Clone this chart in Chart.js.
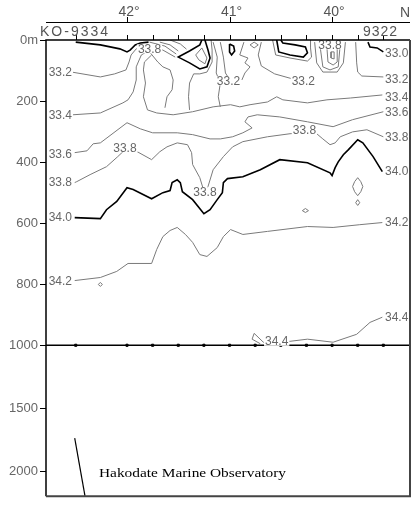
<!DOCTYPE html>
<html>
<head>
  <title>KO-9334 - 9322 salinity section</title>
  <script src="https://cdn.jsdelivr.net/npm/chart.js"></script>
  <style>
    body { margin: 0; background: #fff; }
    #wrap { width: 418px; height: 506px; }
  </style>
</head>
<body>
  <div id="wrap"><canvas id="section"></canvas></div>

  <script>
    // axis values
    const yTicks = [0, 200, 400, 600, 800, 1000, 1500, 2000];
    const yTickLabels = ['0m', '200', '400', '600', '800', '1000', '1500', '2000'];
    const latTicks = [42, 41, 40];
    const stations = [42.5, 42.0, 41.75, 41.5, 41.25, 41.0, 40.75, 40.5, 40.25, 40.0, 39.75, 39.5];

    // contours: [latitude, depth m]
    const s330a = [[42.50,7],[42.26,16],[42.07,29],[42.00,39],[41.97,33],[41.92,16],[41.87,10],[41.79,7]];
    const s330b = [[39.65,7],[39.63,23],[39.56,26],[39.50,39]];
    const s330v = [[41.27,0],[41.29,16],[41.39,36],[41.50,56],[41.39,75],[41.29,95],[41.22,88],[41.19,59],[41.21,33],[41.24,0]];
    const s330d = [[41.00,13],[40.96,20],[40.95,36],[40.98,49],[41.00,39],[41.00,13]];
    const s330k = [[40.54,0],[40.52,39],[40.41,49],[40.28,56],[40.24,42],[40.26,23],[40.36,16],[40.48,10],[40.50,0]];
    const s332a = [[42.54,105],[42.26,121],[42.12,111],[42.01,98],[41.98,72],[41.96,49],[41.91,29],[41.85,23],[41.78,23]];
    const s332m = [[40.69,7],[40.72,49],[40.69,85],[40.56,111],[40.39,127],[40.20,131]];
    const s332b = [[39.77,7],[39.76,75],[39.75,105],[39.71,118],[39.50,121]];
    const s334a = [[42.53,245],[42.26,239],[42.04,206],[41.99,196],[41.94,170],[41.91,131],[41.91,88],[41.89,72],[41.86,49],[41.81,39],[41.73,39]];
    const s334b = [[41.76,49],[41.83,72],[41.84,98],[41.82,141],[41.84,186],[41.80,229],[41.71,239],[41.55,245],[41.36,235],[41.16,219],[40.99,212],[40.90,219],[40.80,212],[40.63,203],[40.54,186],[40.48,196],[40.24,206],[40.05,196],[39.82,190],[39.51,180]];
    const s336 = [[42.51,369],[42.39,363],[42.33,340],[42.26,337],[42.00,271],[41.87,291],[41.75,304],[41.51,304],[41.36,310],[41.19,324],[41.09,324],[40.97,317],[40.87,304],[40.78,288],[40.85,268],[40.82,252],[40.73,245],[40.51,252],[40.24,268],[39.99,284],[39.80,261],[39.50,235]];
    const s338 = [[42.51,467],[42.49,464],[42.36,441],[42.20,415],[42.09,382],[42.04,366],[41.96,356],[41.90,366],[41.76,392],[41.68,366],[41.61,350],[41.51,337],[41.41,343],[41.37,369],[41.36,408],[41.29,451],[41.26,484],[41.24,500],[41.21,480],[41.16,425],[41.06,382],[40.97,350],[40.87,333],[40.63,317],[40.41,307],[40.28,304],[40.15,307],[40.09,324],[40.02,343],[39.97,337],[39.92,317],[39.80,301],[39.66,294],[39.50,317]];
    const s340 = [[42.51,582],[42.26,585],[42.20,556],[42.10,529],[42.00,484],[41.94,490],[41.76,520],[41.65,500],[41.58,493],[41.56,467],[41.51,458],[41.48,467],[41.46,497],[41.36,523],[41.25,569],[41.19,556],[41.12,523],[41.07,500],[41.06,467],[41.02,454],[40.87,448],[40.70,425],[40.51,392],[40.24,402],[40.02,435],[40.00,444],[39.97,418],[39.94,399],[39.89,376],[39.84,359],[39.75,327],[39.70,337],[39.60,382],[39.51,431]];
    const s342 = [[42.51,788],[42.26,778],[42.10,758],[41.99,732],[41.76,732],[41.71,686],[41.65,644],[41.58,624],[41.51,614],[41.43,637],[41.36,663],[41.29,703],[41.22,709],[41.12,680],[41.06,644],[40.99,621],[40.87,637],[40.63,627],[40.24,611],[39.99,614],[39.73,605],[39.51,598]];
    const s344 = [[39.51,908],[39.63,925],[39.76,964],[39.99,990],[40.24,980],[40.41,987],[40.54,987],[40.67,990],[40.76,961],[40.78,980],[40.70,995]];

    // small features near the surface
    const nearTop = [
      [[41.78,39],[41.70,72],[41.65,88],[41.58,98],[41.55,131],[41.56,163],[41.61,186],[41.63,222]],
      [[41.39,229],[41.40,186],[41.39,141],[41.35,111],[41.29,111],[41.22,105],[41.17,72],[41.17,33],[41.18,0]],
      [[41.27,26],[41.22,59],[41.24,78],[41.30,65],[41.33,49],[41.27,26]],
      [[41.78,7],[41.63,20],[41.52,46]],
      [[41.80,20],[41.65,33],[41.53,56]],
      [[41.68,7],[41.58,16],[41.50,36]],
      [[41.58,0],[41.48,13],[41.42,30]],
      [[41.16,7],[41.12,56],[41.13,108],[41.09,141],[41.11,186],[41.09,219]],
      [[41.09,7],[41.06,56],[41.04,108],[41.01,124]],
      [[40.86,7],[40.90,49],[40.82,59],[40.85,75],[40.80,88],[40.85,108],[40.88,131]],
      [[40.76,7],[40.72,16],[40.76,26],[40.80,16],[40.76,7]],
      [[40.58,0],[40.55,49],[40.41,59],[40.24,69],[40.20,56],[40.21,26],[40.21,0]],
      [[40.17,7],[40.15,75],[40.09,105],[39.95,105],[39.89,75],[39.87,7]],
      [[40.12,13],[40.09,88],[40.02,98],[39.94,88],[39.92,13]],
      [[40.05,26],[40.04,72],[39.99,82],[39.95,72],[39.95,26],[40.00,20],[40.05,26]],
      [[40.01,39],[40.01,59],[39.98,62],[39.98,39],[40.01,39]]
    ];
    const smallLoops = [
      [[39.75,451],[39.72,464],[39.70,480],[39.72,497],[39.75,510],[39.78,497],[39.80,480],[39.78,464],[39.75,451]],
      [[39.75,523],[39.73,533],[39.75,542],[39.77,533],[39.75,523]],
      [[40.26,552],[40.23,559],[40.26,565],[40.29,559],[40.26,552]],
      [[42.26,794],[42.24,801],[42.26,807],[42.28,801],[42.26,794]]
    ];
    const seafloor = [[42.51,1738],[42.41,2198]];

    // contour labels: text, latitude, depth
    const contourLabels = [
      ['33.2',42.65,105],['33.4',42.65,245],['33.6',42.65,373],['33.8',42.65,467],['34.0',42.65,582],['34.2',42.65,791],
      ['33.0',39.37,42],['33.2',39.37,127],['33.4',39.37,186],['33.6',39.37,235],['33.8',39.37,317],['34.0',39.37,431],['34.2',39.37,598],['34.4',39.37,908],
      ['33.8',41.78,29],['33.2',41.01,134],['33.2',40.28,134],['33.8',40.02,16],['33.8',42.02,353],['33.8',41.24,497],['33.8',40.27,297],['34.4',40.54,987]
    ];

    // depth below 1000 m is compressed
    function tf(d) { return d <= 1000 ? d : 1000 + (d - 1000) * 0.412; }

    function line(pts, thick) {
      return {
        data: pts.map(p => ({ x: p[0], y: tf(p[1]) })),
        showLine: true,
        borderColor: thick ? '#000' : '#7a7a7a',
        borderWidth: thick ? 1.6 : 1,
        pointRadius: 0,
        tension: 0
      };
    }

    const datasets = [
      line(s332a), line(s332m), line(s332b), line(s334a), line(s334b),
      line(s336), line(s338), line(s342), line(s344)
    ];
    nearTop.forEach(p => datasets.push(line(p)));
    smallLoops.forEach(p => datasets.push(line(p)));
    [s330a, s330b, s330v, s330d, s330k, s340].forEach(p => datasets.push(line(p, true)));
    datasets.push(Object.assign(line(seafloor, true), { borderWidth: 1.2 }));
    datasets.push(line([[42.79, 1000], [39.24, 1000]], true));
    datasets.push({
      data: stations.map(s => ({ x: s, y: 1000 })),
      pointStyle: 'rect', pointRadius: 1.5, backgroundColor: '#000', borderColor: '#000', showLine: false
    });

    const sectionDeco = {
      id: 'sectionDeco',
      afterDatasetsDraw(chart) {
        const ctx = chart.ctx, xs = chart.scales.x, ys = chart.scales.y;
        ctx.save();
        ctx.font = '12px "Liberation Sans", Arial, sans-serif';
        ctx.textAlign = 'center';
        ctx.textBaseline = 'middle';
        contourLabels.forEach(([t, la, d]) => {
          const px = xs.getPixelForValue(la), py = ys.getPixelForValue(tf(d));
          const w = ctx.measureText(t).width;
          ctx.fillStyle = '#fff';
          ctx.fillRect(px - w / 2 - 1, py - 4.5, w + 2, 9);
          ctx.fillStyle = '#666';
          ctx.fillText(t, px, py + 0.5);
        });
        ctx.restore();
      },
      afterDraw(chart) {
        const ctx = chart.ctx, xs = chart.scales.x, a = chart.chartArea;
        ctx.save();
        // frame
        ctx.strokeStyle = '#000';
        ctx.lineWidth = 1.5;
        ctx.beginPath();
        ctx.moveTo(a.left, a.bottom); ctx.lineTo(a.left, a.top); ctx.lineTo(a.right, a.top);
        ctx.stroke();
        ctx.strokeStyle = '#444';
        ctx.lineWidth = 2;
        ctx.beginPath();
        ctx.moveTo(a.right, a.top); ctx.lineTo(a.right, a.bottom); ctx.lineTo(a.left, a.bottom);
        ctx.stroke();
        // latitude axis above
        ctx.strokeStyle = '#000';
        ctx.lineWidth = 1;
        ctx.beginPath();
        ctx.moveTo(a.left, 22.5); ctx.lineTo(a.right, 22.5);
        latTicks.forEach(v => {
          const px = Math.round(xs.getPixelForValue(v)) + 0.5;
          ctx.moveTo(px, 17); ctx.lineTo(px, 22.5);
        });
        stations.forEach(v => {
          const px = Math.round(xs.getPixelForValue(v)) + 0.5;
          ctx.moveTo(px, 35); ctx.lineTo(px, a.top);
        });
        ctx.stroke();
        ctx.fillStyle = '#555';
        ctx.font = '14px "Liberation Sans", Arial, sans-serif';
        ctx.textBaseline = 'middle';
        ctx.textAlign = 'center';
        latTicks.forEach(v => ctx.fillText(v + '°', xs.getPixelForValue(v) + 2, 12));
        ctx.fillText('N', 405, 13);
        ctx.textAlign = 'left';
        ctx.letterSpacing = '2px';
        ctx.fillText('KO-9334', 40, 32);
        ctx.letterSpacing = '1px';
        ctx.fillText('9322', 363, 32);
        ctx.letterSpacing = '0px';
        // credit
        ctx.fillStyle = '#000';
        ctx.font = '13px "Liberation Serif", "Times New Roman", serif';
        ctx.textBaseline = 'alphabetic';
        const credit = 'Hakodate Marine Observatory';
        const w = ctx.measureText(credit).width;
        ctx.translate(99, 477);
        ctx.scale(187 / w, 1);
        ctx.fillText(credit, 0, 0);
        ctx.restore();
      }
    };

    Chart.defaults.font.family = '"Liberation Sans", Arial, sans-serif';

    new Chart(document.getElementById('section'), {
      type: 'scatter',
      data: { datasets: datasets },
      options: {
        responsive: true,
        maintainAspectRatio: false,
        animation: false,
        layout: { padding: { top: 40, right: 8, bottom: 9, left: 0 } },
        plugins: { legend: { display: false }, tooltip: { enabled: false } },
        scales: {
          x: { type: 'linear', display: false, min: 39.24, max: 42.79, reverse: true },
          y: {
            type: 'linear', reverse: true, min: 0, max: tf(2200),
            afterBuildTicks: s => { s.ticks = yTicks.map(v => ({ value: tf(v) })); },
            afterFit: s => { s.width = 46; },
            ticks: {
              autoSkip: false, padding: 2, color: '#666',
              font: { size: 13 },
              callback: (v, i) => yTickLabels[i]
            },
            grid: { drawOnChartArea: false, tickLength: 6, color: '#000' },
            border: { display: false }
          }
        }
      },
      plugins: [sectionDeco]
    });
  </script>
</body>
</html>
